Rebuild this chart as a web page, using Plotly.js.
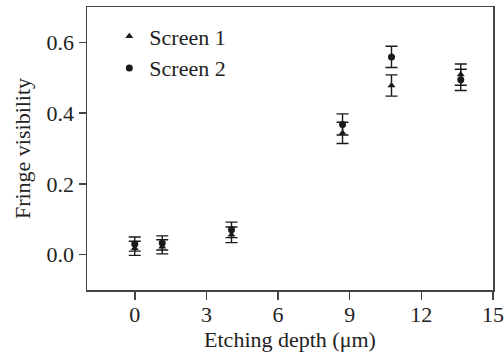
<!DOCTYPE html>
<html>
<head>
<meta charset="utf-8">
<script src="https://cdn.plot.ly/plotly-3.0.1.min.js"></script>
<style>html,body{margin:0;padding:0;background:#fff;}#chart{width:504px;height:360px;}</style>
</head>
<body>
<div id="chart"></div>
<script>
var depth1 = [0, 1.15, 4.05, 8.7, 10.75, 13.65];
var screen1 = [0.018, 0.022, 0.056, 0.344, 0.478, 0.509];
var screen1Err = [0.02, 0.02, 0.022, 0.03, 0.03, 0.03];
var depth2 = [0, 1.15, 4.05, 8.7, 10.75, 13.65];
var screen2 = [0.03, 0.033, 0.07, 0.368, 0.559, 0.494];
var screen2Err = [0.02, 0.02, 0.022, 0.03, 0.03, 0.03];
var xTicks = [0, 3, 6, 9, 12, 15];
var yTicks = [0.0, 0.2, 0.4, 0.6];
var yTickText = ['0.0', '0.2', '0.4', '0.6'];

var ink = '#1a1a1a';
var axisCol = '#444';
var font = "'Liberation Serif', 'Times New Roman', serif";

var traces = [
  {
    x: depth1, y: screen1, name: 'Screen 1', type: 'scatter', mode: 'markers',
    legendgroup: 'a',
    marker: {symbol: 'triangle-up', size: 7, color: ink},
    error_y: {type: 'data', array: screen1Err, visible: true, color: ink, thickness: 1.4, width: 6}
  },
  {
    x: depth2, y: screen2, name: 'Screen 2', type: 'scatter', mode: 'markers',
    legendgroup: 'b',
    marker: {symbol: 'circle', size: 7, color: ink},
    error_y: {type: 'data', array: screen2Err, visible: true, color: ink, thickness: 1.4, width: 6}
  }
];

var layout = {
  width: 504, height: 360,
  margin: {l: 87, r: 11, t: 7, b: 70},
  paper_bgcolor: '#fff', plot_bgcolor: '#fff',
  font: {family: font, size: 22, color: '#222'},
  showlegend: true,
  legend: {
    x: 0.055, y: 0.97, xanchor: 'left', yanchor: 'top',
    bgcolor: 'rgba(0,0,0,0)', font: {family: font, size: 22, color: '#222'},
    traceorder: 'grouped', tracegroupgap: 0, itemwidth: 30
  },
  xaxis: {
    range: [-2, 15], tickvals: xTicks, ticks: 'outside', ticklen: 8, tickwidth: 1.5, tickcolor: axisCol,
    showline: true, linecolor: axisCol, linewidth: 1.5, mirror: true,
    showgrid: false, zeroline: false, ticklabelstandoff: -4,
    tickfont: {family: font, size: 22, color: '#222'},
    title: {text: 'Etching depth (μm)', font: {family: font, size: 22, color: '#222'}, standoff: 3}
  },
  yaxis: {
    range: [-0.1, 0.7], tickvals: yTicks, ticktext: yTickText, ticks: 'outside', ticklen: 7, tickwidth: 1.5, tickcolor: axisCol,
    showline: true, linecolor: axisCol, linewidth: 1.5, mirror: true,
    showgrid: false, zeroline: false,
    tickfont: {family: font, size: 22, color: '#222'},
    title: {text: 'Fringe visibility', font: {family: font, size: 22, color: '#222'}, standoff: 10}
  },
  xaxis2: {
    overlaying: 'x', side: 'top', range: [-2, 15], tickvals: xTicks, ticks: 'inside', ticklen: 8, tickwidth: 1.5,
    tickcolor: axisCol, showticklabels: false, showgrid: false, zeroline: false, showline: false
  },
  yaxis2: {
    overlaying: 'y', side: 'right', range: [-0.1, 0.7], tickvals: yTicks, ticks: 'inside', ticklen: 6, tickwidth: 1.5,
    tickcolor: axisCol, showticklabels: false, showgrid: false, zeroline: false, showline: false
  }
};

Plotly.newPlot('chart', traces, layout, {displayModeBar: false, staticPlot: true});
</script>
</body>
</html>
